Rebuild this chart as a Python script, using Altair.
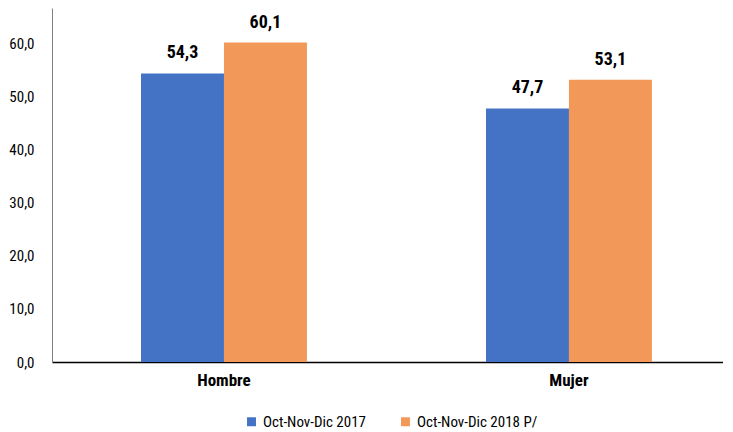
import altair as alt
import pandas as pd

categories = ["Hombre", "Mujer"]
series_names = ["Oct-Nov-Dic 2017", "Oct-Nov-Dic 2018 P/"]
values_2017 = [54.3, 47.7]
values_2018 = [60.1, 53.1]
colors = ["#4472C4", "#F2995A"]
y_ticks = [0, 10, 20, 30, 40, 50, 60]

rows = []
for i, c in enumerate(categories):
    rows.append({"cat": c, "serie": series_names[0], "val": values_2017[i]})
    rows.append({"cat": c, "serie": series_names[1], "val": values_2018[i]})
df = pd.DataFrame(rows)

font = "Liberation Sans Narrow, Arial Narrow, Roboto Condensed, Liberation Sans, sans-serif"

x = alt.X("cat:N", sort=categories, title=None,
          scale=alt.Scale(paddingInner=0.519, paddingOuter=0.232, align=0.556),
          axis=alt.Axis(labelAngle=0, labelFont=font, labelFontSize=17, labelFontWeight="bold",
                        labelColor="#000000", ticks=False, domainColor="#000000", domainWidth=1.5,
                        labelPadding=10))
y = alt.Y("val:Q", title=None,
          scale=alt.Scale(domain=[0, 66.6], nice=False),
          axis=alt.Axis(values=y_ticks, grid=False, ticks=False, labelFont=font, labelFontSize=15,
                        labelColor="#000000", domainColor="#808080", labelPadding=18,
                        labelExpr="replace(format(datum.value, '.1f'), '.', ',')"))

base = alt.Chart(df).encode(
    x=x,
    xOffset=alt.XOffset("serie:N", sort=series_names),
    y=y,
)

bars = base.mark_bar().encode(
    color=alt.Color("serie:N", sort=series_names,
                    scale=alt.Scale(domain=series_names, range=colors),
                    legend=alt.Legend(title=None, orient="none", legendX=192, legendY=406,
                                      direction="horizontal",
                                      symbolType="square", symbolSize=80, labelFont=font,
                                      labelFontSize=15, labelColor="#000000", columnPadding=32,
                                      symbolStrokeWidth=0))
)

labels = base.mark_text(dy=-11, baseline="bottom", font=font, fontSize=18, fontWeight="bold",
                        color="#000000").encode(
    text=alt.Text("lbl:N")
).transform_calculate(lbl="replace(format(datum.val, '.1f'), '.', ',')")

chart = (bars + labels).properties(width=671, height=354, padding=0).configure_view(stroke=None)

chart.save("out.html", embed_options={"renderer": "svg", "actions": False})
